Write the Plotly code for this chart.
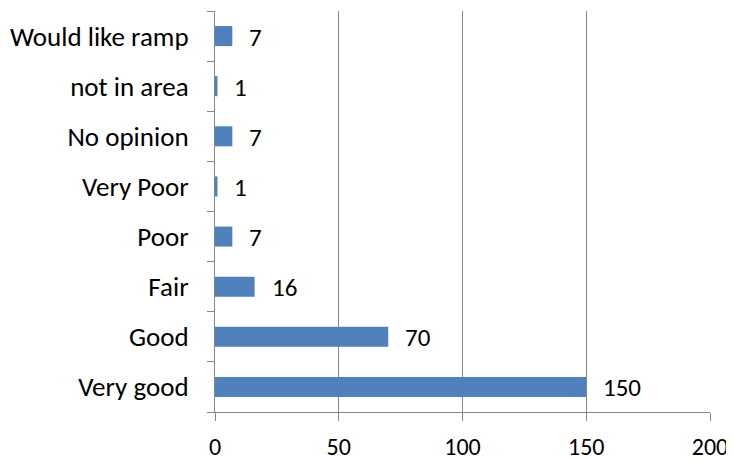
import plotly.graph_objects as go

categories = ["Very good", "Good", "Fair", "Poor", "Very Poor", "No opinion", "not in area", "Would like ramp"]
values = [150, 70, 16, 7, 1, 7, 1, 7]
x_ticks = [0, 50, 100, 150, 200]

FONT = "Calibri, Carlito, Lato, sans-serif"
GRID = "#878787"
FS = 27

fig = go.Figure()
fig.add_trace(go.Bar(
    x=values, y=categories, orientation="h",
    marker=dict(color="#4F81BD", line=dict(width=0)),
    hoverinfo="skip",
))

for c, v in zip(categories, values):
    fig.add_annotation(x=v, y=c, text=str(v), showarrow=False,
                       xanchor="left", xshift=15, yshift=-1,
                       font=dict(family=FONT, size=25, color="#000000"))

# page body has an 8px default margin, so the figure is sized/offset for it
fig.update_layout(
    width=726, height=452,
    margin=dict(l=207, r=24, t=3, b=48),
    paper_bgcolor="white", plot_bgcolor="white",
    showlegend=False, bargap=0.6,
    font=dict(family=FONT, size=FS, color="#000000"),
)
fig.update_xaxes(
    range=[0, 200], tickvals=x_ticks, ticktext=[str(t) for t in x_ticks],
    showgrid=True, gridcolor=GRID, gridwidth=1,
    showline=True, linecolor=GRID, linewidth=1,
    zeroline=False, ticks="outside", ticklen=8, tickcolor=GRID,
    ticklabelstandoff=5, automargin=False, tickfont=dict(size=24),
)
fig.update_yaxes(
    showgrid=False, showline=True, linecolor=GRID, linewidth=1,
    ticks="outside", ticklen=7, tickcolor=GRID, tickson="boundaries",
    ticklabelstandoff=20, automargin=False,
)

fig.write_html("out.html")
